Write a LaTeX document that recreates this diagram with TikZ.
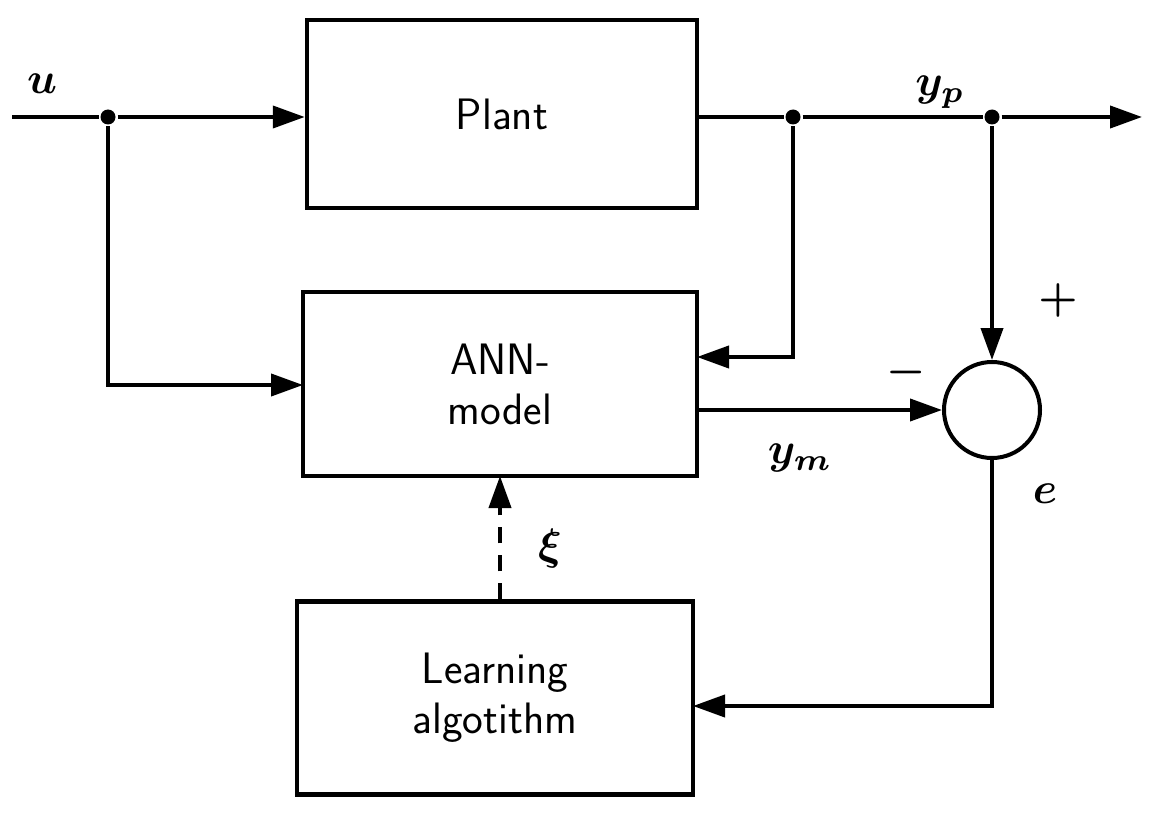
\documentclass[tikz,border=0pt]{standalone}
\usepackage{amsmath,bm}
\usetikzlibrary{arrows.meta}
\begin{document}
\begin{tikzpicture}[x=1pt,y=-1pt,
 line width=4pt,
 box/.style={draw,line width=4.5pt,font=\sffamily\fontsize{44}{50}\selectfont,align=center,inner sep=0},
 arr/.style={-{Triangle[length=32pt,width=22pt]}},
 dot/.style={circle,fill,inner sep=0,minimum size=15pt},
 lab/.style={scale=4.4,inner sep=0}]
\useasboundingbox (0,0) rectangle (1151,813);
\node[box,minimum width=390pt,minimum height=188pt] (plant) at (502,114) {Plant};
\node[box,minimum width=394pt,minimum height=184pt] (ann) at (500,384) {ANN-\\model};
\node[box,minimum width=396pt,minimum height=193pt] (learn) at (495,698) {Learning\\algotithm};
\node[draw,circle,line width=4pt,minimum size=96pt,inner sep=0] (sum) at (992,410) {};
\coordinate (in) at (12,117);
\node[dot] (d1) at (108,117) {};
\node[dot] (d2) at (793,117) {};
\node[dot] (d3) at (992,117) {};
\coordinate (out) at (1142,117);
\draw[arr] (in) -- (d1) -- (d1 -| plant.west);
\draw[arr] (d1) |- (303,385);
\draw (plant.east |- d2) -- (d2) -- (d3);
\draw[arr] (d3) -- (out);
\draw[arr] (d2) |- (697,357);
\draw[arr] (d3) -- (sum.north);
\draw[arr] (ann.east |- sum) -- (sum.west);
\draw[arr] (sum.south) |- (693,706);
\draw[arr,dash pattern=on 16pt off 12pt] (learn.north -| 500,0) -- (500,476);
\node[lab] at (42,84) {$\bm{u}$};
\node[lab] at (940,92) {$\bm{y_p}$};
\node[lab] at (1058,300) {$\bm{+}$};
\node[lab] at (906,372) {$\bm{-}$};
\node[lab] at (800,458) {$\bm{y_m}$};
\node[lab] at (1045,494) {$\bm{e}$};
\node[lab] at (550,548) {$\bm{\xi}$};
\end{tikzpicture}
\end{document}
